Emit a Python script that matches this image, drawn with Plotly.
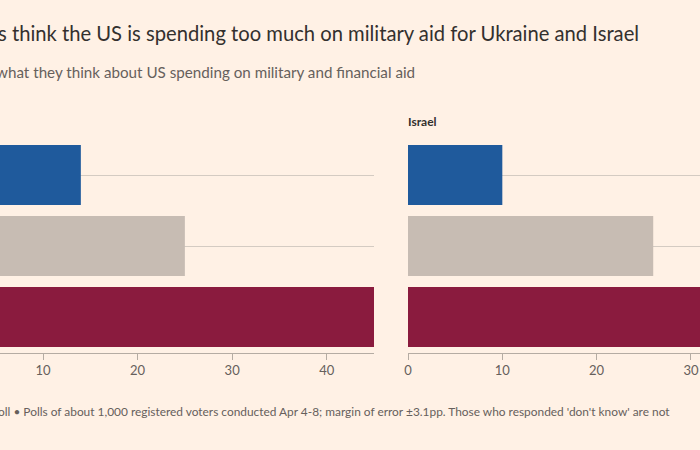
import plotly.graph_objects as go

categories = ["Too little", "About right", "Too much"]
ukraine_values = [14, 25, 45]
israel_values = [10, 26, 38]
bar_colors = ["#1f5a9c", "#c7bcb3", "#8a1b3e"]
tick_vals = [0, 10, 20, 30, 40]

title_text = "s think the US is spending too much on military aid for Ukraine and Israel"
subtitle_text = "what they think about US spending on military and financial aid"
footnote_text = ("oll \u2022 Polls of about 1,000 registered voters conducted Apr 4-8; margin of error "
                 "\u00b13.1pp. Those who responded 'don't know' are not")
panel_labels = ["Ukraine", "Israel"]

W, H = 700, 450
BG = "#fff1e5"
TXT = "#33302e"
MUTED = "#66605c"
GRID = "#d4cbc2"
AXIS = "#b5aca3"
FONT = "Lato"

fig = go.Figure()
fig.add_trace(go.Bar(x=ukraine_values, y=categories, orientation="h",
                     marker=dict(color=bar_colors, line=dict(width=0)),
                     xaxis="x", yaxis="y", showlegend=False))
fig.add_trace(go.Bar(x=israel_values, y=categories, orientation="h",
                     marker=dict(color=bar_colors, line=dict(width=0)),
                     xaxis="x2", yaxis="y2", showlegend=False))

y_top_px, y_bot_px = 139.5, 352.5
ydom = [(H - y_bot_px) / H, (H - y_top_px) / H]

common_x = dict(tickvals=tick_vals, showgrid=False, zeroline=False, showline=True,
                linecolor=AXIS, linewidth=1, ticks="outside", ticklen=6, tickcolor=AXIS,
                tickfont=dict(family=FONT, size=13, color=MUTED), fixedrange=True,
                automargin=False)
common_y = dict(showticklabels=False, showgrid=True, gridcolor=GRID, gridwidth=1,
                zeroline=False, showline=False, autorange="reversed", ticks="",
                categoryorder="array", categoryarray=categories, automargin=False,
                fixedrange=True)

fig.update_layout(
    template="none",
    width=W, height=H,
    margin=dict(l=0, r=0, t=0, b=0, pad=0, autoexpand=False),
    paper_bgcolor=BG, plot_bgcolor=BG,
    bargap=0.155,
    xaxis=dict(domain=[0, 374 / W], range=[5.45, 45], anchor="y", **common_x),
    xaxis2=dict(domain=[408 / W, 1.0], range=[0, 30.96], anchor="y2", **common_x),
    yaxis=dict(domain=ydom, anchor="x", **common_y),
    yaxis2=dict(domain=ydom, anchor="x2", **common_y),
    font=dict(family=FONT, color=TXT),
)

fig.add_annotation(text=title_text, xref="paper", yref="paper", x=-4 / W, y=1 - 33 / H,
                   xanchor="left", yanchor="middle", showarrow=False,
                   font=dict(family=FONT, size=20.2, color=TXT))
fig.add_annotation(text=subtitle_text, xref="paper", yref="paper", x=-6 / W, y=1 - 72 / H,
                   xanchor="left", yanchor="middle", showarrow=False,
                   font=dict(family=FONT, size=15.2, color=MUTED))
fig.add_annotation(text="<b>" + panel_labels[1] + "</b>", xref="paper", yref="paper",
                   x=406 / W, y=1 - 122 / H, xanchor="left", yanchor="middle", showarrow=False,
                   font=dict(family=FONT, size=12, color=TXT))
fig.add_annotation(text=footnote_text, xref="paper", yref="paper", x=-4 / W, y=1 - 411 / H,
                   xanchor="left", yanchor="middle", showarrow=False,
                   font=dict(family=FONT, size=11.9, color=MUTED))

fig.write_html("out.html", config={"displayModeBar": False},
               post_script="document.body.style.margin='0';")
